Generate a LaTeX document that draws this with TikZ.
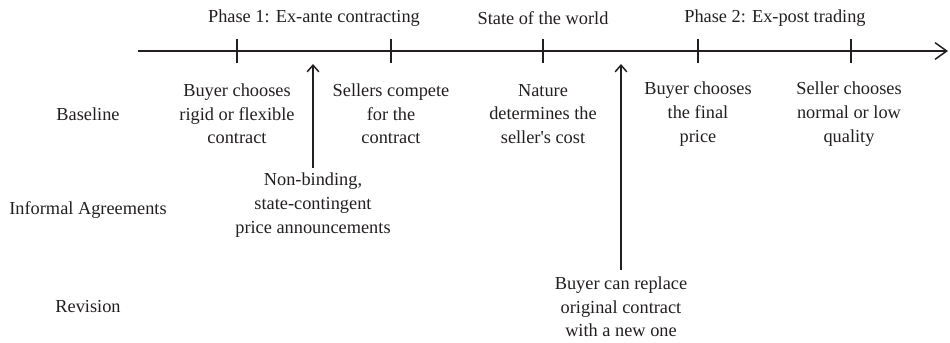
\documentclass[tikz,border=0pt]{standalone}
\usepackage{fontspec}
\setmainfont{Liberation Serif}
\usetikzlibrary{arrows.meta}

\definecolor{ink}{HTML}{231F20}

\tikzset{
    stage/.style={align=center, font=\fontsize{11}{14.2}\selectfont, inner sep=1pt},
    rowlabel/.style={font=\fontsize{11}{14.2}\selectfont},
    timeline/.style={line width=0.9pt, -{Straight Barb[length=7pt,width=10pt]}},
    eventarrow/.style={line width=0.9pt, -{Straight Barb[length=4pt,width=7pt]}},
}

\begin{document}
\begin{tikzpicture}[x=0.6pt, y=-0.6pt, color=ink]
    \useasboundingbox (0,0) rectangle (950,342);

    % Time axis with ticks
    \coordinate (t0) at (138,51);
    \coordinate (tend) at (948,51);
    \draw[timeline] (t0) -- (tend);
    \foreach \x/\n in {237/a,391/b,543/c,698/d,851/e} {
        \coordinate (tick\n) at (\x,51);
        \draw[line width=0.9pt] (\x,39) -- (\x,63);
    }

    % Phase headers
    \node[stage] (phase1) at (314,18) {Phase 1: Ex-ante contracting};
    \node[stage] (state) at (543,18) {State of the world};
    \node[stage] (phase2) at (775,18) {Phase 2: Ex-post trading};

    % Row labels
    \node[rowlabel] (baseline) at (88,114) {Baseline};
    \node[rowlabel] (informal) at (88,210) {Informal Agreements};
    \node[rowlabel] (revision) at (88,307) {Revision};

    % Baseline events
    \node[stage] (choose) at (237,114) {Buyer chooses\\rigid or flexible\\contract};
    \node[stage] (compete) at (391,114) {Sellers compete\\for the\\contract};
    \node[stage] (nature) at (543,114) {Nature\\determines the\\seller\textquotesingle s cost};
    \node[stage] (price) at (698,114) {Buyer chooses\\the final\\price};
    \node[stage] (quality) at (849,114) {Seller chooses\\normal or low\\quality};

    % Informal agreements
    \coordinate (ia) at (313,64);
    \node[stage, inner sep=3pt] (nonbind) at (313,205) {Non-binding,\\state-contingent\\price announcements};
    \draw[eventarrow] (nonbind) -- (ia);

    % Revision
    \coordinate (rv) at (621,64);
    \node[stage, inner sep=4pt] (replace) at (621,307) {Buyer can replace\\original contract\\with a new one};
    \draw[eventarrow] (replace) -- (rv);

\end{tikzpicture}
\end{document}
